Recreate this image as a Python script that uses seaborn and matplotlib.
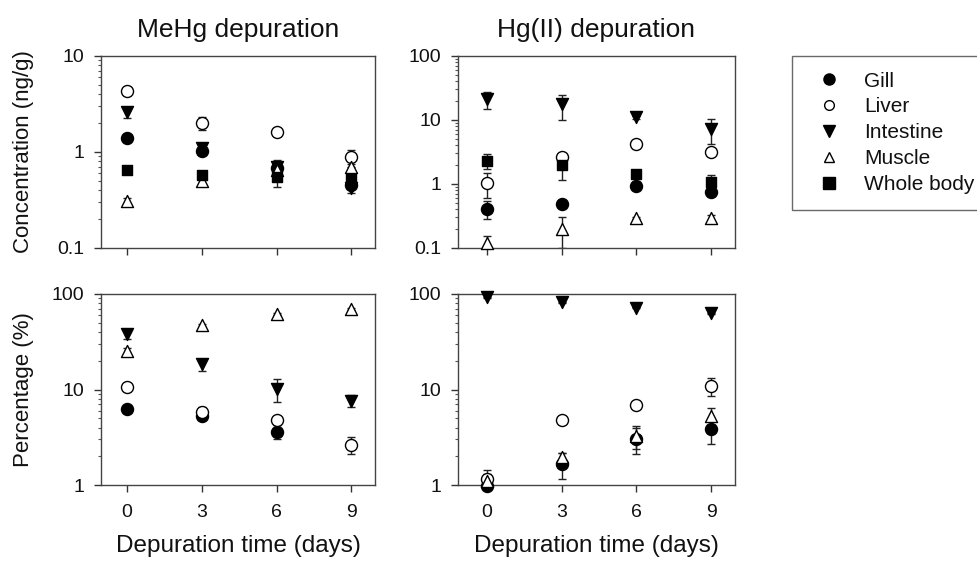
#!/usr/bin/env python3

import numpy as np
import matplotlib
matplotlib.use("Agg")
import matplotlib.pyplot as plt
from matplotlib.lines import Line2D
from matplotlib.ticker import FuncFormatter, LogLocator, NullFormatter
import seaborn as sns

days = [0, 3, 6, 9]
tissues = ["Gill", "Liver", "Intestine", "Muscle", "Whole body"]

# MeHg depuration, concentration (ng/g)
mehg_conc = {
    "Gill": [1.41, 1.02, 0.68, 0.45],
    "Liver": [4.3, 2.0, 1.62, 0.88],
    "Intestine": [2.6, 1.1, 0.70, 0.42],
    "Muscle": [0.31, 0.50, 0.65, 0.70],
    "Whole body": [0.65, 0.57, 0.55, 0.52],
}
mehg_conc_err = {
    "Gill": [0.05, 0.10, 0.05, 0.04],
    "Liver": [0.4, 0.3, 0.15, 0.18],
    "Intestine": [0.35, 0.13, 0.13, 0.05],
    "Muscle": [0.02, 0.05, 0.05, 0.05],
    "Whole body": [0.03, 0.05, 0.12, 0.05],
}

# Hg(II) depuration, concentration (ng/g)
hg_conc = {
    "Gill": [0.41, 0.49, 0.93, 0.74],
    "Liver": [1.05, 2.6, 4.2, 3.2],
    "Intestine": [21.0, 17.5, 11.0, 7.2],
    "Muscle": [0.12, 0.20, 0.29, 0.29],
    "Whole body": [2.3, 2.0, 1.45, 1.07],
}
hg_conc_err = {
    "Gill": [0.13, 0.03, 0.05, 0.05],
    "Liver": [0.45, 0.3, 0.2, 0.3],
    "Intestine": [6.0, 7.5, 0.5, 3.0],
    "Muscle": [0.035, 0.10, 0.01, 0.04],
    "Whole body": [0.6, 0.85, 0.1, 0.3],
}

# MeHg depuration, percentage (%)
mehg_pct = {
    "Gill": [6.3, 5.3, 3.6, np.nan],
    "Liver": [10.5, 5.8, 4.8, 2.65],
    "Intestine": [38.0, 18.3, 10.2, 7.6],
    "Muscle": [25.0, 47.0, 62.0, 70.0],
}
mehg_pct_err = {
    "Gill": [0.4, 0.3, 0.6, 0.0],
    "Liver": [0.5, 0.7, 0.3, 0.55],
    "Intestine": [4.5, 2.8, 2.8, 1.1],
    "Muscle": [2.5, 2.0, 2.0, 2.0],
}

# Hg(II) depuration, percentage (%)
hg_pct = {
    "Gill": [0.98, 1.65, 3.05, 3.85],
    "Liver": [1.15, 4.8, 6.85, 10.9],
    "Intestine": [92.0, 82.0, 72.0, 62.5],
    "Muscle": [1.1, 1.95, 3.25, 5.3],
}
hg_pct_err = {
    "Gill": [0.05, 0.5, 0.95, 1.15],
    "Liver": [0.3, 0.2, 0.2, 2.4],
    "Intestine": [1.0, 1.0, 1.0, 1.0],
    "Muscle": [0.2, 0.2, 0.85, 1.1],
}

styles = {
    "Gill": ("o", "black"),
    "Liver": ("o", "white"),
    "Intestine": ("v", "black"),
    "Muscle": ("^", "white"),
    "Whole body": ("s", "black"),
}
draw_order = ["Intestine", "Gill", "Liver", "Muscle", "Whole body"]

sns.set_style("ticks")
plt.rcParams["font.family"] = ["Liberation Sans", "DejaVu Sans"]

W, H = 978, 566
fig = plt.figure(figsize=(W / 100, H / 100), dpi=100)


def box(l, t, r, b):
    return [l / W, 1 - b / H, (r - l) / W, (b - t) / H]


def panel(rect, values, errors, ylim, xlim):
    ax = fig.add_axes(rect)
    for name in draw_order:
        if name not in values:
            continue
        marker, fc = styles[name]
        ax.errorbar(days, values[name], yerr=errors[name], fmt="none",
                    ecolor="#222222", elinewidth=1, capsize=3, capthick=1,
                    zorder=2, clip_on=True)
        sns.scatterplot(x=days, y=values[name], marker=marker, color=fc,
                        edgecolor="black", linewidth=1,
                        s=75 if marker != "s" else 60, ax=ax, zorder=3,
                        clip_on=False, legend=False)
    ax.set_yscale("log")
    ax.set_ylim(*ylim)
    ax.set_xlim(*xlim)
    ax.set_xticks(days)
    ax.yaxis.set_major_formatter(FuncFormatter(lambda v, p: "{:g}".format(v)))
    ax.yaxis.set_minor_locator(LogLocator(base=10, subs=np.arange(2, 10)))
    ax.yaxis.set_minor_formatter(NullFormatter())
    ax.tick_params(axis="both", which="major", direction="out", length=5,
                   width=1, color="#333333", labelsize=14, labelcolor="#111111")
    ax.tick_params(axis="y", which="major", pad=7)
    ax.tick_params(axis="x", which="major", pad=9)
    ax.tick_params(axis="y", which="minor", direction="out", length=2.5,
                   width=0.8, color="#555555")
    for s in ax.spines.values():
        s.set_color("#444444")
        s.set_linewidth(1)
    return ax


ax1 = panel(box(101, 56, 375, 248), mehg_conc, mehg_conc_err, (0.1, 10), (-1.05, 9.95))
ax2 = panel(box(458, 56, 735, 248), hg_conc, hg_conc_err, (0.1, 100), (-1.15, 9.95))
ax3 = panel(box(101, 294, 375, 485), mehg_pct, mehg_pct_err, (1, 100), (-1.05, 9.95))
ax4 = panel(box(458, 294, 735, 485), hg_pct, hg_pct_err, (1, 100), (-1.15, 9.95))

for ax in (ax1, ax2):
    ax.tick_params(axis="x", labelbottom=False)
ax1.set_title("MeHg depuration", fontsize=19, pad=14, color="#111111")
ax2.set_title("Hg(II) depuration", fontsize=19, pad=14, color="#111111")

ax1.set_ylabel("Concentration (ng/g)", fontsize=16, color="#111111")
ax3.set_ylabel("Percentage (%)", fontsize=16, color="#111111")
ax1.yaxis.set_label_coords(-0.245, 0.5)
ax3.yaxis.set_label_coords(-0.245, 0.5)
for ax in (ax3, ax4):
    ax.set_xlabel("Depuration time (days)", fontsize=17.5, labelpad=10,
                  color="#111111")

handles = []
for name in tissues:
    marker, fc = styles[name]
    handles.append(Line2D([], [], linestyle="none", marker=marker,
                          markerfacecolor=fc, markeredgecolor="black",
                          markersize=8 if fc == "black" else 7))
leg = fig.legend(handles, tissues, loc="upper left",
                 bbox_to_anchor=(792 / W, 1 - 56 / H), fontsize=15,
                 frameon=True, fancybox=False, edgecolor="#444444",
                 borderpad=0.75, labelspacing=0.33, handletextpad=0.6,
                 borderaxespad=0, handlelength=2.1)
leg.get_frame().set_linewidth(1)
for t in leg.get_texts():
    t.set_color("#111111")

fig.savefig("out.png", dpi=100)
